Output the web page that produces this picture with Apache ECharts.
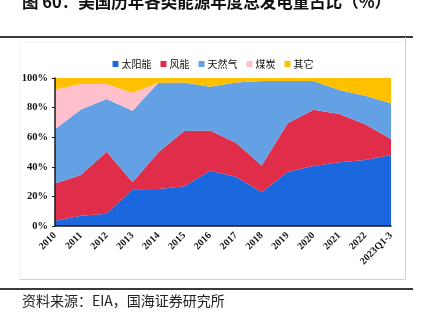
<!DOCTYPE html>
<html><head><meta charset="utf-8">
<script src="https://cdn.jsdelivr.net/npm/echarts@6/dist/echarts.min.js"></script>
<style>html,body{margin:0;padding:0;background:#fff}#c{width:426px;height:324px}</style>
</head><body><div id="c"></div>
<script>
const categories = ['2010','2011','2012','2013','2014','2015','2016','2017','2018','2019','2020','2021','2022','2023Q1-3'];
const solar = [3.6, 7.0, 8.3, 24.8, 25.0, 26.8, 37.4, 33.3, 22.8, 36.7, 40.5, 43.0, 44.6, 48.0];
const wind  = [25.2, 27.5, 41.9, 4.7, 24.8, 37.4, 27.2, 23.0, 18.0, 32.7, 38.1, 32.7, 24.1, 10.8];
const gas   = [36.5, 44.3, 35.6, 48.4, 47.0, 32.8, 29.5, 40.7, 57.2, 28.6, 19.4, 16.2, 19.3, 24.1];
const coal  = [27.0, 17.2, 10.2, 12.1, 0, 0, 0, 0, 0, 0, 0, 0, 0, 0];
const other = [7.7, 4.0, 4.0, 10.0, 3.2, 3.0, 5.9, 3.0, 2.0, 2.0, 2.0, 8.1, 12.0, 17.1];
const yTicks = [0, 20, 40, 60, 80, 100];
const seriesNames = ['太阳能','风能','天然气','煤炭','其它'];
const colors = ['#1B68DE','#E02D49','#64A1E4','#FFBFCB','#FFC000'];
const seriesData = [solar, wind, gas, coal, other];

const chart = echarts.init(document.getElementById('c'), null, {renderer:'canvas'});
const serif = '"Liberation Serif","Times New Roman",serif';
chart.setOption({
  animation: false,
  backgroundColor: '#fff',
  color: colors,
  graphic: [
    {type:'text', left: 22, top: -7, style:{text:'图 60：美国历年各类能源年度总发电量占比（%）', font:'bold 16.5px "Noto Sans CJK SC", sans-serif', fill:'#111'}},
    {type:'line', shape:{x1:0,y1:37,x2:413,y2:37}, style:{stroke:'#3a3a3a', lineWidth:2}},
    {type:'line', shape:{x1:20,y1:42,x2:405,y2:42}, style:{stroke:'#f0f0f0', lineWidth:1}},
    {type:'line', shape:{x1:20,y1:42,x2:20,y2:279.5}, style:{stroke:'#eeeeee', lineWidth:1}},
    {type:'line', shape:{x1:405.5,y1:37,x2:405.5,y2:279.5}, style:{stroke:'#d0d0d0', lineWidth:1}},
    {type:'line', shape:{x1:20,y1:279.5,x2:405.5,y2:279.5}, style:{stroke:'#d0d0d0', lineWidth:1}},
    {type:'line', shape:{x1:0,y1:289,x2:413,y2:289}, style:{stroke:'#3a3a3a', lineWidth:2}},
    {type:'text', left: 22, top: 294, style:{text:'资料来源：EIA，国海证券研究所', font:'14px "Noto Sans CJK SC", sans-serif', fill:'#222'}}
  ],
  legend: {
    top: 54, left: 'center',
    icon: 'rect', itemWidth: 6, itemHeight: 6, itemGap: 9,
    textStyle: {fontSize: 10, fontFamily: '"Noto Sans CJK SC", sans-serif', color:'#111', padding:[0,0,0,-2]},
    data: seriesNames
  },
  grid: {left: 55, right: 35, top: 78, bottom: 98, containLabel: false},
  xAxis: {
    type: 'category', data: categories, boundaryGap: false,
    axisLine: {lineStyle: {color: '#1a1a1a', width: 1.5}},
    axisTick: {show: false},
    axisLabel: {rotate: 45, interval: 0, margin: 8, fontFamily: serif, fontWeight: 'bold', fontSize: 10, color: '#111'},
    z: 10
  },
  yAxis: {
    type: 'value', min: 0, max: 100, interval: 20,
    axisLine: {show: true, lineStyle: {color: '#1a1a1a', width: 1.5}},
    axisTick: {show: true, inside: false, length: 3, lineStyle: {color:'#1a1a1a'}},
    splitLine: {show: false},
    axisLabel: {margin: 7, fontFamily: serif, fontWeight: 'bold', fontSize: 10.5, color: '#111',
      formatter: v => yTicks.indexOf(v) >= 0 ? v + '%' : ''},
    z: 10
  },
  series: seriesData.map((d, i) => ({
    name: seriesNames[i], type: 'line', stack: 'total', data: d,
    showSymbol: false, symbol: 'none',
    lineStyle: {width: 0},
    areaStyle: {color: colors[i], opacity: 1},
    itemStyle: {color: colors[i]}
  }))
});
</script></body></html>
